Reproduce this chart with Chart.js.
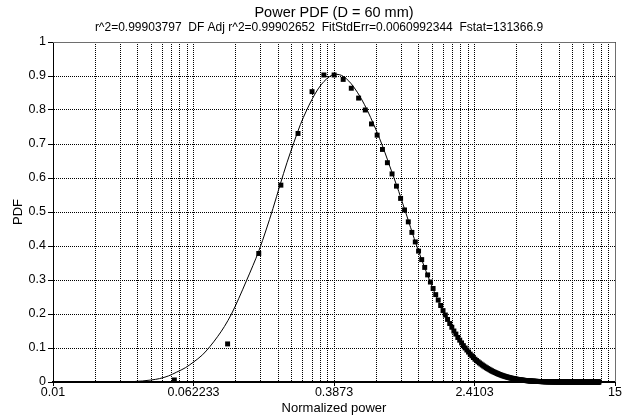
<!DOCTYPE html>
<html><head><meta charset="utf-8">
<script src="https://cdn.jsdelivr.net/npm/chart.js@4.4.1/dist/chart.umd.min.js"></script>
<style>html,body{margin:0;padding:0;background:#fff}canvas{display:block}</style>
</head><body>
<canvas id="c" width="624" height="419"></canvas>
<script>
const titleText = 'Power PDF (D = 60 mm)';
const subtitleText = 'r^2=0.99903797  DF Adj r^2=0.99902652  FitStdErr=0.0060992344  Fstat=131366.9';
const xAxisTitle = 'Normalized power';
const yAxisTitle = 'PDF';
const xTickValues = [0.01, 0.062233, 0.3873, 2.4103, 15];
const xTickLabels = ['0.01', '0.062233', '0.3873', '2.4103', '15'];
const yTickValues = [0, 0.1, 0.2, 0.3, 0.4, 0.5, 0.6, 0.7, 0.8, 0.9, 1];
const yTickLabels = ['0', '0.1', '0.2', '0.3', '0.4', '0.5', '0.6', '0.7', '0.8', '0.9', '1'];

// measured points (bin centres, PDF)
const dataX = [
0.0485,0.097,0.1455,0.194,0.2425,0.291,0.3395,0.388,0.4365,0.485,
0.5335,0.582,0.6305,0.679,0.7275,0.776,0.8245,0.873,0.9215,0.97,
1.0185,1.067,1.1155,1.164,1.2125,1.261,1.3095,1.358,1.4065,1.455,
1.5035,1.552,1.6005,1.649,1.6975,1.746,1.7945,1.843,1.8915,1.94,
1.9885,2.037,2.0855,2.134,2.1825,2.231,2.2795,2.328,2.3765,2.425,
2.4735,2.522,2.5705,2.619,2.6675,2.716,2.7645,2.813,2.8615,2.91,
2.9585,3.007,3.0555,3.104,3.1525,3.201,3.2495,3.298,3.3465,3.395,
3.4435,3.492,3.5405,3.589,3.6375,3.686,3.7345,3.783,3.8315,3.88,
3.9285,3.977,4.0255,4.074,4.1225,4.171,4.2195,4.268,4.3165,4.365,
4.4135,4.462,4.5105,4.559,4.6075,4.656,4.7045,4.753,4.8015,4.85,
4.8985,4.947,4.9955,5.044,5.0925,5.141,5.1895,5.238,5.2865,5.335,
5.3835,5.432,5.4805,5.529,5.5775,5.626,5.6745,5.723,5.7715,5.82,
5.8685,5.917,5.9655,6.014,6.0625,6.111,6.1595,6.208,6.2565,6.305,
6.3535,6.402,6.4505,6.499,6.5475,6.596,6.6445,6.693,6.7415,6.79,
6.8385,6.887,6.9355,6.984,7.0325,7.081,7.1295,7.178,7.2265,7.275,
7.3235,7.372,7.4205,7.469,7.5175,7.566,7.6145,7.663,7.7115,7.76,
7.8085,7.857,7.9055,7.954,8.0025,8.051,8.0995,8.148,8.1965,8.245,
8.2935,8.342,8.3905,8.439,8.4875,8.536,8.5845,8.633,8.6815,8.73,
8.7785,8.827,8.8755,8.924,8.9725,9.021,9.0695,9.118,9.1665,9.215,
9.2635,9.312,9.3605,9.409,9.4575,9.506,9.5545,9.603,9.6515,9.7,
9.7485,9.797,9.8455,9.894,9.9425,9.991,10.0395,10.088,10.1365,10.185,
10.2335,10.282,10.3305,10.379,10.4275,10.476,10.5245,10.573,10.6215,10.67,
10.7185,10.767,10.8155,10.864,10.9125,10.961,11.0095,11.058,11.1065,11.155,
11.2035,11.252,11.3005,11.349,11.3975,11.446,11.4945,11.543,11.5915,11.64,
11.6885,11.737,11.7855,11.834,11.8825,11.931,11.9795,12.028,12.0765,12.125,
12.1735];
const dataY = [
0.006,0.112,0.378,0.579,0.731,0.854,0.903,0.903,0.890,0.864,
0.835,0.800,0.759,0.726,0.684,0.645,0.612,0.576,0.540,0.506,
0.471,0.440,0.412,0.385,0.360,0.337,0.315,0.294,0.275,0.257,
0.241,0.225,0.210,0.197,0.184,0.172,0.161,0.150,0.141,0.131,
0.123,0.115,0.107,0.100,0.094,0.088,0.082,0.077,0.072,0.067,
0.0632,0.0596,0.0562,0.0530,0.0500,0.0471,0.0444,0.0419,0.0395,0.0373,
0.0351,0.0331,0.0312,0.0295,0.0278,0.0262,0.0247,0.0233,0.0220,0.0207,
0.0195,0.0184,0.0174,0.0164,0.0155,0.0146,0.0137,0.0130,0.0122,0.0115,
0.0109,0.0103,0.0097,0.0091,0.0086,0.0081,0.0077,0.0072,0.0068,0.0064,
0.0061,0.0057,0.0054,0.0051,0.0048,0.0045,0.0043,0.0040,0.0038,0.0036,
0.0034,0.0032,0.0030,0.0028,0.0027,0.0025,0.0024,0.0022,0.0021,0.0020,
0.0019,0.0018,0.0017,0.0016,0.0015,0.0014,0.0013,0.0012,0.0011,0.0011,
0.0010,0.0010,0.0009,0.0009,0.0008,0.0008,0.0007,0.0007,0.0007,0.0006,
0.0006,0.0006,0.0005,0.0005,0.0005,0.0004,0.0004,0.0004,0.0004,0.0003,
0.0003,0.0003,0.0003,0.0003,0.0003,0.0002,0.0002,0.0002,0.0002,0.0002,
0.0002,0.0002,0.0002,0.0002,0.0002,0.0001,0.0001,0.0001,0.0001,0.0001,
0.0001,0.0001,0.0001,0.0001,0.0001,0.0001,0.0001,0.0001,0.0001,0.0001,
0,0,0,0,0,0,0,0,0,0,
0,0,0,0,0,0,0,0,0,0,
0,0,0,0,0,0,0,0,0,0,
0,0,0,0,0,0,0,0,0,0,
0,0,0,0,0,0,0,0,0,0,
0,0,0,0,0,0,0,0,0,0,
0,0,0,0,0,0,0,0,0,0,
0,0,0,0,0,0,0,0,0,0,
0];

// fitted curve
const fitX = [0.01,0.015,0.02,0.025,0.028,0.032,0.036,0.04,0.045,0.05,0.056,0.062,0.07,0.077,0.085,0.093,0.102,0.112,0.124,0.135,0.146,0.16,0.175,0.192,0.21,0.23,0.25,0.27,0.29,0.315,0.34,0.365,0.39,0.415,0.44,0.47,0.5,0.55,0.6,0.65,0.7,0.75,0.8,0.85,0.9,0.95,1.0,1.1,1.2,1.3,1.4,1.5,1.65,1.8,2.0,2.2,2.4,2.7,3.0,3.4,3.8,4.3,5,6,7.5,10,15];
const fitY = [0,0,0,0.0005,0.001,0.003,0.006,0.010,0.018,0.029,0.042,0.058,0.080,0.104,0.133,0.163,0.200,0.245,0.298,0.343,0.387,0.447,0.510,0.580,0.645,0.705,0.757,0.797,0.830,0.862,0.884,0.898,0.905,0.904,0.898,0.885,0.868,0.835,0.797,0.757,0.717,0.676,0.635,0.597,0.560,0.523,0.488,0.422,0.366,0.318,0.276,0.240,0.196,0.160,0.118,0.089,0.067,0.046,0.032,0.0205,0.0128,0.0072,0.0029,0.0009,0.0002,0,0];

const FONT = '"Liberation Sans", Arial, Helvetica, sans-serif';
Chart.defaults.font.family = FONT;
Chart.defaults.color = '#000';

// decorative minor grid positions (log-style subdivisions between major ticks)
const xGridValues = [];
for (let i = 0; i < xTickValues.length; i++) {
  xGridValues.push(xTickValues[i]);
  if (i < xTickValues.length - 1) {
    for (let k = 2; k <= 9; k++) {
      xGridValues.push(xTickValues[i] * Math.pow(xTickValues[i + 1] / xTickValues[i], Math.log10(k)));
    }
  }
}
xGridValues.sort((a, b) => a - b);
function majorIndex(v) {
  return xTickValues.findIndex(m => Math.abs(m - v) / m < 1e-6);
}

const framePlugin = {
  id: 'frame',
  afterDraw(chart) {
    const {ctx, chartArea: a} = chart;
    ctx.save();
    ctx.strokeStyle = '#6e6e6e';
    ctx.lineWidth = 1;
    ctx.setLineDash([]);
    ctx.beginPath();
    ctx.moveTo(a.left, a.top + 0.5);
    ctx.lineTo(a.right + 0.5, a.top + 0.5);
    ctx.lineTo(a.right + 0.5, a.bottom);
    ctx.stroke();
    ctx.fillStyle = '#000';
    ctx.textAlign = 'center';
    ctx.textBaseline = 'middle';
    ctx.font = '14.5px ' + FONT;
    ctx.fillText(titleText, 334, 13);
    ctx.font = '12px ' + FONT;
    ctx.fillText(subtitleText, 319, 28);
    ctx.restore();
  }
};

new Chart(document.getElementById('c'), {
  type: 'scatter',
  data: {
    datasets: [
      {
        label: 'Data',
        data: dataX.map((x, i) => ({x: x, y: dataY[i]})),
        pointStyle: 'rect',
        pointRadius: 3.5,
        pointBorderWidth: 0,
        backgroundColor: '#000',
        borderColor: '#000',
        showLine: false,
        clip: false,
        order: 0
      },
      {
        label: 'Fit',
        data: fitX.map((x, i) => ({x: x, y: fitY[i]})),
        showLine: true,
        borderColor: '#000',
        borderWidth: 1,
        pointRadius: 0,
        cubicInterpolationMode: 'monotone',
        fill: false,
        clip: false,
        order: 1
      }
    ]
  },
  options: {
    responsive: false,
    animation: false,
    devicePixelRatio: 1,
    layout: {padding: {left: 0, right: 9, top: 42, bottom: 0}},
    plugins: {legend: {display: false}, tooltip: {enabled: false}, title: {display: false}},
    scales: {
      x: {
        type: 'logarithmic',
        position: 'bottom',
        min: 0.01,
        max: 15,
        afterBuildTicks: s => { s.ticks = xGridValues.map(v => ({value: v, major: majorIndex(v) >= 0})); },
        afterFit: s => { s.height = 37; },
        ticks: {
          autoSkip: false, maxRotation: 0, minRotation: 0, padding: -1,
          font: {size: 12.5},
          callback: function (val) { const j = majorIndex(val); return j >= 0 ? xTickLabels[j] : ''; }
        },
        grid: {
          color: '#000', lineWidth: 1, tickLength: 4, drawTicks: true,
          tickColor: c => (c.tick && majorIndex(c.tick.value) >= 0) ? '#000' : 'rgba(0,0,0,0)'
        },
        border: {display: true, color: '#000', width: 2, dash: [1, 1]},
        title: {display: true, text: xAxisTitle, font: {size: 13}, padding: {top: 0, bottom: 3}}
      },
      y: {
        min: 0,
        max: 1,
        afterBuildTicks: s => { s.ticks = yTickValues.map(v => ({value: v})); },
        afterFit: s => { s.width = 53; },
        ticks: {
          autoSkip: false, padding: 2, font: {size: 12.5},
          callback: function (val, i) { return yTickLabels[i]; }
        },
        grid: {color: '#000', lineWidth: 1, tickLength: 5, tickColor: '#000'},
        border: {display: true, color: '#000', width: 1, dash: [1, 1]},
        title: {display: true, text: yAxisTitle, font: {size: 13}, padding: {top: 11, bottom: 0}}
      }
    }
  },
  plugins: [framePlugin]
});
</script>
</body></html>
